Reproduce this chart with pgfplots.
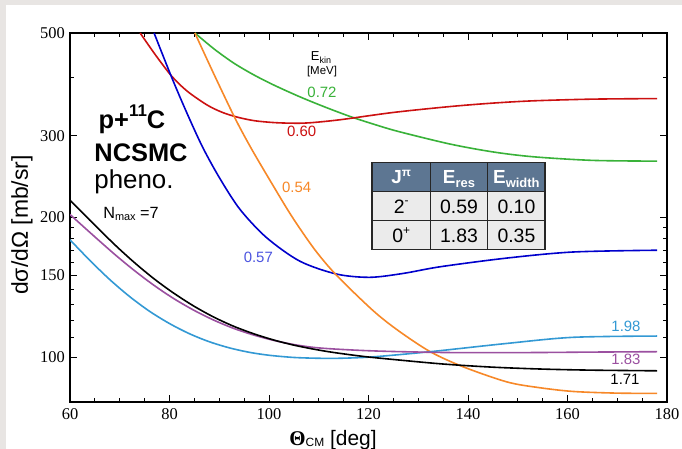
\documentclass[border=0pt]{standalone}
\usepackage{pgfplots}
\pgfplotsset{compat=1.18}
\usepackage{fontspec}
\setmainfont{Liberation Sans}
\newfontfamily\serif{Liberation Serif}
\newcommand{\fs}[1]{\fontsize{#1}{#1}\selectfont}
\definecolor{cgreen}{RGB}{57,178,57}
\definecolor{cred}{RGB}{204,17,17}
\definecolor{cblue}{RGB}{0,0,204}
\definecolor{corange}{RGB}{247,136,40}
\definecolor{cpurple}{RGB}{155,80,160}
\definecolor{clblue}{RGB}{51,153,212}
\definecolor{lblblue}{RGB}{77,85,224}
\definecolor{hdr}{RGB}{93,118,146}
\definecolor{rowgray}{RGB}{235,235,235}
\definecolor{bggray}{RGB}{232,229,227}
\begin{document}
\begin{tikzpicture}
\useasboundingbox (0,0) rectangle (682bp,449bp);
\fill[bggray] (0,0) rectangle (682bp,449bp);
\fill[white] (6bp,0) rectangle (682bp,444bp);
\begin{axis}[
  at={(70bp,47bp)}, anchor=south west,
  scale only axis, width=597bp, height=369bp,
  xmin=60, xmax=180, ymin=80, ymax=500, ymode=log,
  xtick={60,80,...,180}, minor x tick num=3,
  ytick={100,150,200,300,500}, yticklabels={100,150,200,300,500},
  minor ytick={110,120,130,140,160,170,180,190,400},
  major tick length=7bp, minor tick length=4bp,
  tick style={line width=0.9bp, black},
  axis line style={line width=1.1bp},
  /pgf/number format/assume math mode=true,
  xticklabel style={font=\serif\fs{16.5}, inner sep=0pt, yshift=-6bp},
  yticklabel style={font=\serif\fs{16.5}, inner sep=0pt, xshift=-5bp},
]
\addplot[cgreen, line width=1.6bp, smooth, tension=0.5] coordinates {(85.1,500) (89,461.5) (93,430) (97,405.8) (101,386) (106,365) (111,347) (116.3,330.3) (121,318) (126,306.6) (136.4,288) (145,277) (153.1,270.4) (165,265.6) (178,264.6)};
\addplot[cred, line width=1.6bp, smooth, tension=0.5] coordinates {(74.1,500) (77.2,448) (80.4,404) (83.5,375) (87.5,350) (90.5,337.5) (93.5,329.5) (97,323.5) (100.9,320.5) (104.5,319.5) (108,320) (114.3,325) (125,337) (136.4,347) (145,353) (153.1,357) (165,360) (178,361)};
\addplot[cblue, line width=1.6bp, smooth, tension=0.5] coordinates {(76.9,500) (80.4,402) (83.5,336) (86.7,283) (90.2,242) (94.2,208) (99.5,181) (106.2,161) (113.6,151) (120.3,148.6) (127,151.5) (134.4,156.6) (147.8,163.5) (161.1,168.5) (178,170)};
\addplot[corange, line width=1.6bp, smooth, tension=0.5] coordinates {(85.1,500) (89,406) (93.2,327) (96.5,281) (100.5,237.5) (104.6,201) (109.2,170.5) (113.6,150) (120.9,126) (126,114) (132.4,102.7) (139,95.3) (147.8,88.4) (154,86) (161.1,84.3) (170,83.6) (178,83.5)};
\addplot[clblue, line width=1.6bp, smooth, tension=0.5] coordinates {(60,179) (64,161.6) (68,146.9) (72,135) (76,125.5) (80,118.1) (84,112.3) (88,107.9) (92,104.7) (96,102.4) (100,100.9) (105,99.8) (110,99.4) (114.3,99.4) (120.9,100.1) (132.4,102.7) (147.8,107) (161.1,110.3) (178,111)};
\addplot[cpurple, line width=1.6bp, smooth, tension=0.5] coordinates {(60,203) (64,185.7) (69,166.5) (73,153.5) (77,142.5) (81,133.4) (85,126) (89,120) (93,115.2) (97,111.5) (101,108.6) (105,106.4) (109,104.9) (113,104.1) (119,103.3) (125,102.8) (135,102.3) (145,102.2) (155,102.3) (165,102.5) (178,102.7)};
\addplot[black, line width=1.6bp, smooth, tension=0.5] coordinates {(60,218) (64,197.3) (69,174.7) (73,159.7) (77,147.2) (81,137) (85,128.6) (89,121.8) (93,116.4) (97,112.2) (101,108.8) (105,106.1) (109,104) (113,102.3) (119,100.3) (125,98.8) (135,96.6) (145,95.1) (155,94.2) (165,93.7) (178,93.4)};
\end{axis}
% axis labels
\node[rotate=90, font=\fs{23}, inner sep=0pt] at (22bp,224bp) {dσ/dΩ [mb/sr]};
\node[anchor=base, inner sep=0pt, font=\fs{21}] at (333bp,4bp) {{\serif\bfseries Θ}\raisebox{-0.05em}{\fs{12}CM} [deg]};
% left text
\node[anchor=base, inner sep=0pt, font=\fs{25.5}\bfseries] at (132bp,320.7bp) {p+\raisebox{0.45em}{\fs{17}\bfseries 11}C};
\node[anchor=base, inner sep=0pt, font=\fs{25.5}\bfseries] at (141bp,287.3bp) {NCSMC};
\node[anchor=base, inner sep=0pt, font=\fs{26}] at (134bp,260.7bp) {pheno.};
\node[anchor=base, inner sep=0pt, font=\fs{16.3}] at (131bp,230.7bp) {N\raisebox{-0.15em}{\fs{11}max} =7};
% Ekin
\node[anchor=base, inner sep=0pt, font=\fs{13}] at (321bp,388bp) {E\raisebox{-0.2em}{\fs{9}kin}};
\node[anchor=base, inner sep=0pt, font=\fs{11.5}] at (322bp,374bp) {[MeV]};
% curve labels
\begin{scope}[every node/.style={inner sep=0pt, font=\fs{15}}]
\node[text=cgreen] at (322bp,356.5bp) {0.72};
\node[text=cred] at (301.7bp,317.5bp) {0.60};
\node[text=corange] at (296.7bp,261.5bp) {0.54};
\node[text=lblblue] at (258.3bp,191.5bp) {0.57};
\node[text=clblue] at (626bp,122.3bp) {1.98};
\node[text=cpurple] at (626bp,89.8bp) {1.83};
\node[text=black] at (625bp,69.8bp) {1.71};
\end{scope}
% table
\fill[hdr] (372bp,257.3bp) rectangle (545bp,286.3bp);
\fill[rowgray] (372bp,199.7bp) rectangle (545bp,257.3bp);
\draw[black!85, line width=1.2bp] (372bp,199.7bp) rectangle (545bp,286.3bp)
  (372bp,257.3bp) -- (545bp,257.3bp) (372bp,228.3bp) -- (545bp,228.3bp)
  (430.3bp,199.7bp) -- (430.3bp,286.3bp) (487.7bp,199.7bp) -- (487.7bp,286.3bp);
\begin{scope}[every node/.style={inner sep=0pt, anchor=base}]
\node[text=white, font=\fs{19}\bfseries] at (401.2bp,265bp) {J\raisebox{0.4em}{\fs{12}\bfseries π}};
\node[text=white, font=\fs{19}\bfseries] at (459bp,265bp) {E\raisebox{-0.2em}{\fs{13}\bfseries res}};
\node[text=white, font=\fs{19}\bfseries] at (516.4bp,265bp) {E\raisebox{-0.2em}{\fs{13}\bfseries width}};
\node[font=\fs{19.5}] at (401.2bp,235.3bp) {2\raisebox{0.45em}{\fs{12}-}};
\node[font=\fs{19.5}] at (459bp,235.3bp) {0.59};
\node[font=\fs{19.5}] at (516.4bp,235.3bp) {0.10};
\node[font=\fs{19.5}] at (401.2bp,206.5bp) {0\raisebox{0.4em}{\fs{12}+}};
\node[font=\fs{19.5}] at (459bp,206.5bp) {1.83};
\node[font=\fs{19.5}] at (516.4bp,206.5bp) {0.35};
\end{scope}
\end{tikzpicture}
\end{document}
